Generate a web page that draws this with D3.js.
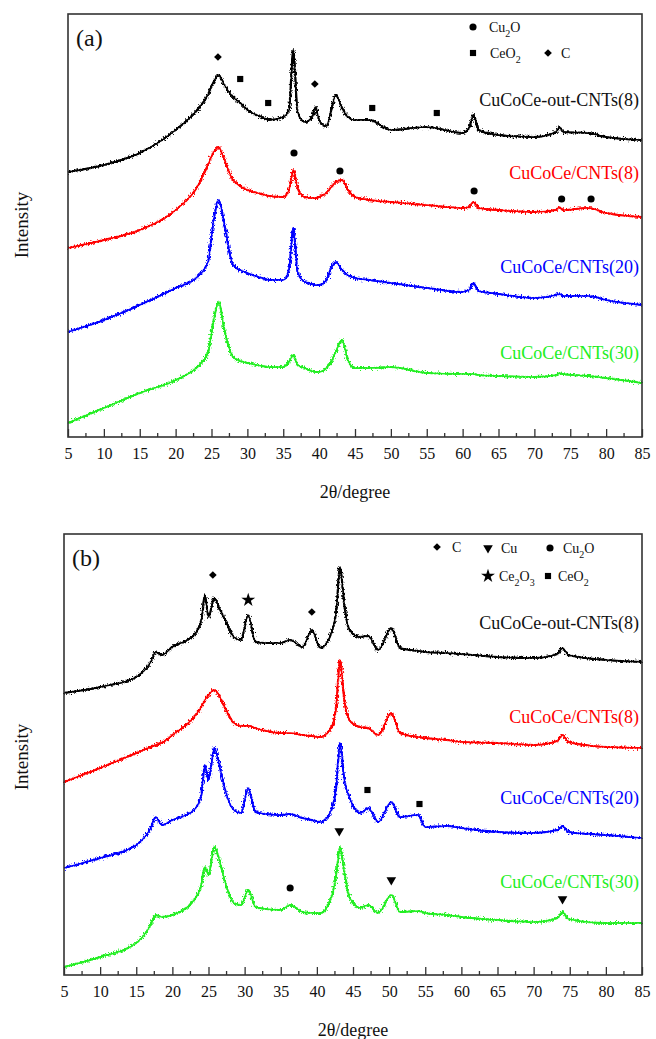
<!DOCTYPE html>
<html>
<head>
<meta charset="utf-8">
<script src="https://cdn.jsdelivr.net/npm/d3@7"></script>
<style>
  body { margin: 0; background: #fff; }
</style>
</head>
<body>
<div id="chart"></div>
<script>
// 2-theta grid, panel (a)
var angA = [5, 10, 15, 20, 23, 24.5, 25.3, 26, 26.8, 28, 29, 30, 32, 33, 35, 35.8, 36.4, 37, 38, 39, 39.5, 40, 41, 41.7, 42.3, 43.2, 44, 45, 47, 50, 55, 60, 60.9, 61.5, 62.2, 65, 70, 73, 73.5, 74, 77.5, 80, 85];
var outA = [265, 272, 284, 307, 327, 342, 355, 362, 352, 340, 334, 327, 320, 317, 320, 327, 387, 325, 315, 320, 330, 317, 311, 327, 342, 329, 320, 317, 317, 307, 310, 304, 309, 322, 307, 302, 300, 305, 310, 305, 304, 300, 297];
var c8A = [189, 197, 207, 227, 250, 272, 285, 290, 277, 257, 251, 247, 243, 241, 240, 247, 267, 249, 240, 239, 239, 240, 244, 250, 255, 257, 247, 240, 237, 235, 232, 229, 230, 235, 229, 227, 225, 227, 230, 227, 229, 224, 220];
var c20A = [105, 117, 132, 149, 160, 175, 217, 237, 212, 172, 167, 164, 159, 157, 157, 167, 209, 165, 155, 153, 152, 152, 157, 169, 175, 167, 162, 159, 157, 154, 149, 145, 147, 154, 146, 143, 139, 142, 143, 141, 141, 137, 132];
var c30A = [14, 29, 44, 57, 70, 84, 117, 135, 107, 80, 76, 74, 71, 70, 70, 75, 82, 72, 69, 66, 65, 65, 69, 75, 85, 97, 77, 69, 69, 70, 64, 63, 63, 63, 62, 61, 60, 62, 64, 63, 61, 59, 54];

// 2-theta grid, panel (b)
var angB = [5, 10, 15, 17, 17.7, 18.5, 20, 23, 24, 24.5, 25, 25.8, 26.5, 27.3, 28.5, 29.5, 30.5, 31.5, 33, 35, 36.3, 38, 39.3, 40.5, 42, 42.7, 43.2, 43.8, 44.5, 46, 47.1, 48.5, 50.3, 51.5, 54, 55, 58, 60, 65, 70, 73.3, 74, 74.8, 80, 85];
var outB = [282, 288, 298, 313, 323, 320, 328, 340, 355, 380, 358, 377, 367, 355, 338, 335, 360, 333, 332, 332, 335, 328, 345, 327, 342, 365, 408, 370, 345, 338, 339, 325, 347, 327, 324, 323, 322, 321, 318, 317, 321, 327, 320, 315, 313];
var c8B = [193, 207, 222, 228, 230, 232, 240, 258, 268, 275, 280, 285, 279, 267, 252, 249, 249, 247, 244, 242, 242, 240, 239, 238, 248, 270, 315, 275, 255, 248, 247, 240, 262, 242, 238, 237, 235, 233, 232, 230, 234, 240, 233, 228, 227];
var c20B = [107, 117, 130, 147, 158, 150, 155, 165, 180, 210, 195, 227, 210, 185, 165, 162, 187, 163, 161, 160, 161, 157, 155, 153, 165, 190, 232, 195, 178, 162, 167, 153, 173, 158, 160, 148, 149, 147, 143, 142, 145, 149, 143, 140, 137];
var c30B = [8, 18, 32, 50, 60, 58, 60, 75, 90, 108, 100, 128, 115, 93, 72, 70, 85, 68, 66, 65, 70, 63, 62, 62, 78, 100, 128, 103, 78, 67, 70, 62, 80, 63, 64, 62, 60, 58, 55, 53, 57, 63, 56, 52, 52];

var sampleNames = ["CuCoCe-out-CNTs(8)", "CuCoCe/CNTs(8)", "CuCoCe/CNTs(20)", "CuCoCe/CNTs(30)"];
var sampleColors = ["#000000", "#ff0000", "#0000ff", "#22ee22"];
var xTicks = [5, 10, 15, 20, 25, 30, 35, 40, 45, 50, 55, 60, 65, 70, 75, 80, 85];

// phase markers: [phase, 2theta, intensity]
var marksA = [
  ["C", 25.9, 380], ["C", 39.4, 353],
  ["CeO2", 29.0, 358], ["CeO2", 32.9, 334], ["CeO2", 47.4, 329], ["CeO2", 56.4, 324],
  ["Cu2O", 36.5, 284], ["Cu2O", 42.9, 266], ["Cu2O", 61.6, 246], ["Cu2O", 73.8, 238], ["Cu2O", 77.9, 238]
];
var marksB = [
  ["C", 25.6, 400], ["Ce2O3", 30.5, 375], ["C", 39.3, 363],
  ["CeO2", 47.0, 185], ["CeO2", 54.2, 171],
  ["Cu", 43.1, 144], ["Cu2O", 36.3, 87], ["Cu", 50.3, 95], ["Cu", 74.0, 76]
];

var W = 656, H = 1039;
var FONT = "Liberation Serif";
var svg = d3.select("#chart").append("svg").attr("width", W).attr("height", H)
  .attr("font-family", FONT);

// rough look of the detector noise
var defs = svg.append("defs");
var filt = defs.append("filter").attr("id", "noisy")
  .attr("x", "-2%").attr("y", "-10%").attr("width", "104%").attr("height", "120%");
filt.append("feTurbulence").attr("type", "fractalNoise").attr("baseFrequency", "1.3 0.5")
  .attr("numOctaves", 2).attr("seed", 3).attr("result", "turb");
filt.append("feDisplacementMap").attr("in", "SourceGraphic").attr("in2", "turb")
  .attr("scale", 6).attr("xChannelSelector", "R").attr("yChannelSelector", "G");

var symbolFor = {
  "C": d3.symbol().type(d3.symbolSquare).size(30),
  "CeO2": d3.symbol().type(d3.symbolSquare).size(38),
  "Cu2O": d3.symbol().type(d3.symbolCircle).size(40),
  "Cu": d3.symbol().type(d3.symbolTriangle).size(40),
  "Ce2O3": d3.symbol().type(d3.symbolStar).size(60)
};

function drawMark(g, type, x, y) {
  var p = g.append("path").attr("d", symbolFor[type]()).attr("fill", "#000");
  var rot = type == "Cu" ? " rotate(180)" : (type == "C" ? " rotate(45)" : "");
  p.attr("transform", "translate(" + x + "," + y + ")" + rot);
}

function addText(g, x, y, size, str) {
  return g.append("text").attr("x", x).attr("y", y)
    .attr("font-family", FONT).attr("font-size", size).attr("fill", "#111")
    .text(str);
}

function panel(opt) {
  var x = d3.scaleLinear().domain([5, 85]).range([opt.left, opt.right]);
  var y = d3.scaleLinear().domain([0, opt.bottom - opt.top]).range([opt.bottom, opt.top]);
  var g = svg.append("g");

  var line = d3.line()
    .x(function(d) { return x(d[0]); })
    .y(function(d) { return y(d[1]); })
    .curve(d3.curveMonotoneX);

  opt.series.forEach(function(s, i) {
    var pts = opt.ang.map(function(a, j) { return [a, s[j]]; });
    g.append("path")
      .datum(pts)
      .attr("d", line)
      .attr("fill", "none")
      .attr("stroke", sampleColors[i])
      .attr("stroke-width", 1.4);
    g.append("path")
      .datum(pts)
      .attr("d", line)
      .attr("fill", "none")
      .attr("stroke", sampleColors[i])
      .attr("stroke-width", 2.2)
      .attr("filter", "url(#noisy)");
  });

  // frame
  g.append("rect")
    .attr("x", opt.left).attr("y", opt.top)
    .attr("width", opt.right - opt.left).attr("height", opt.bottom - opt.top)
    .attr("fill", "none").attr("stroke", "#333").attr("stroke-width", 1.6);

  // bottom axis, ticks pointing in
  var minor = d3.range(7.5, 85, 5);
  g.selectAll(".minor").data(minor).enter().append("line")
    .attr("x1", function(d) { return x(d); }).attr("x2", function(d) { return x(d); })
    .attr("y1", opt.bottom).attr("y2", opt.bottom - 4)
    .attr("stroke", "#333").attr("stroke-width", 1.3);
  var xAxis = d3.axisBottom(x).tickValues(xTicks).tickSize(-8).tickPadding(11).tickSizeOuter(0);
  var ax = g.append("g").attr("transform", "translate(0," + opt.bottom + ")").call(xAxis);
  ax.attr("font-family", FONT).attr("font-size", 16);
  ax.select(".domain").remove();
  ax.selectAll(".tick line").attr("stroke", "#333").attr("stroke-width", 1.3);
  ax.selectAll("text").attr("font-family", FONT).attr("font-size", 16).attr("fill", "#111");

  addText(g, (opt.left + opt.right) / 2, opt.titleY, 18, "2θ/degree")
    .attr("text-anchor", "middle");

  g.append("text")
    .attr("transform", "translate(28," + opt.intY + ") rotate(-90)")
    .attr("text-anchor", "middle").attr("font-family", FONT)
    .attr("font-size", 19).attr("fill", "#111")
    .text("Intensity");

  addText(g, opt.left + 8, opt.top + 32, 24, opt.tag);

  // sample names
  sampleNames.forEach(function(n, i) {
    addText(g, opt.right - 3, opt.labelY[i], 18, n)
      .attr("text-anchor", "end")
      .attr("fill", i == 0 ? "#111" : sampleColors[i]);
  });

  // phase markers
  opt.marks.forEach(function(m) {
    drawMark(g, m[0], x(m[1]), y(m[2]));
  });

  // legend
  opt.legend.forEach(function(l) {
    drawMark(g, l[0], l[1], l[2]);
    var t = addText(g, l[3], l[2] + 5, 14, null);
    l[4].forEach(function(part) {
      if (part[1]) t.append("tspan").attr("dy", 5).attr("font-size", 10).text(part[0]);
      else if (part[2]) t.append("tspan").attr("dy", -5).text(part[0]);
      else t.append("tspan").text(part[0]);
    });
  });
}

panel({
  left: 68, right: 642, top: 14, bottom: 437,
  ang: angA, series: [outA, c8A, c20A, c30A],
  labelY: [106, 179, 273, 359], titleY: 498, intY: 225, tag: "(a)",
  marks: marksA,
  legend: [
    ["Cu2O", 473, 27, 489, [["Cu"], ["2", true], ["O", false, true]]],
    ["CeO2", 473, 53, 490, [["CeO"], ["2", true]]],
    ["C", 548, 53, 561, [["C"]]]
  ]
});

panel({
  left: 64, right: 642, top: 534, bottom: 975,
  ang: angB, series: [outB, c8B, c20B, c30B],
  labelY: [629, 723, 804, 888], titleY: 1036, intY: 757, tag: "(b)",
  marks: marksB,
  legend: [
    ["C", 437, 547, 452, [["C"]]],
    ["Cu", 488, 548, 501, [["Cu"]]],
    ["Cu2O", 550, 548, 563, [["Cu"], ["2", true], ["O", false, true]]],
    ["Ce2O3", 488, 576, 499, [["Ce"], ["2", true], ["O", false, true], ["3", true]]],
    ["CeO2", 548, 576, 558, [["CeO"], ["2", true]]]
  ]
});
</script>
</body>
</html>
